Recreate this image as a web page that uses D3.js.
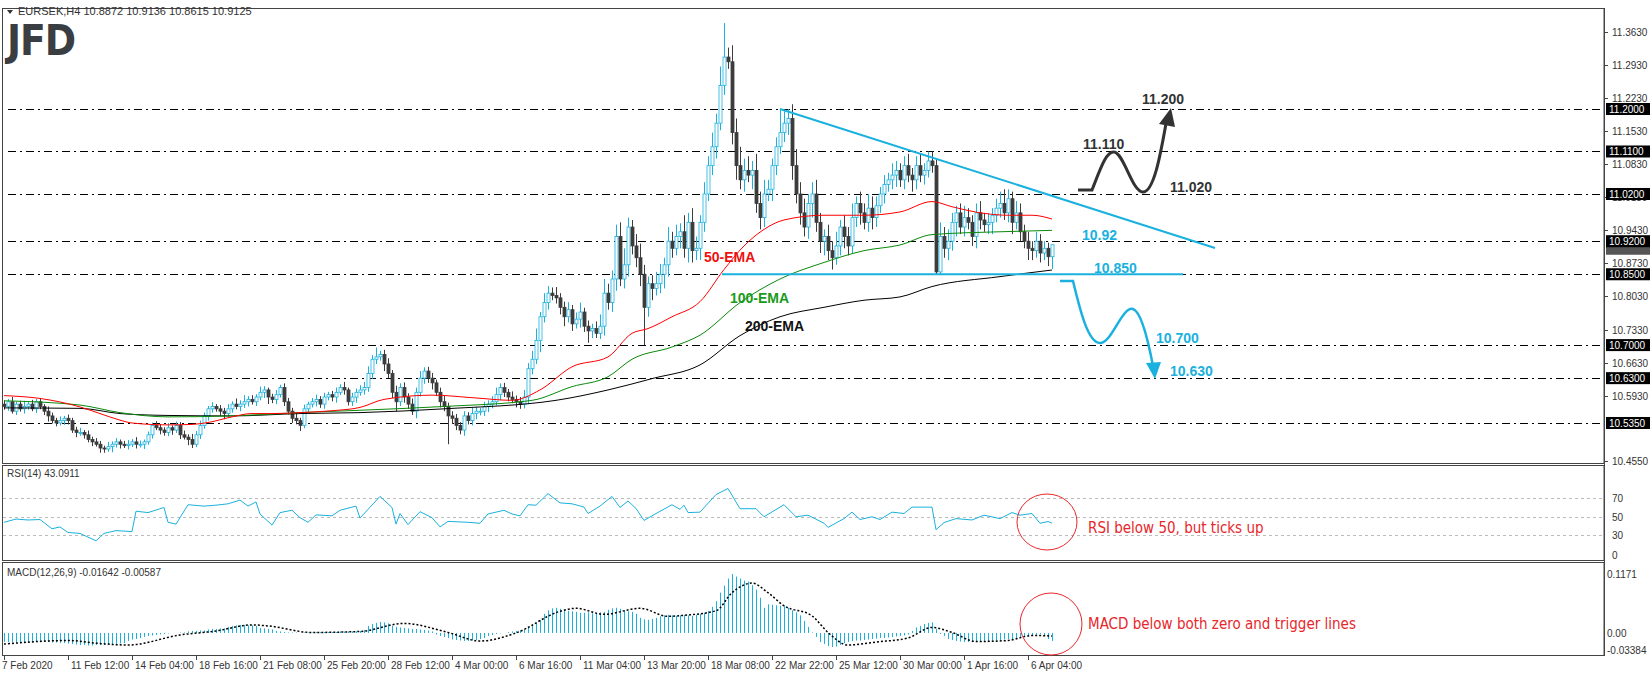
<!DOCTYPE html>
<html>
<head>
<meta charset="utf-8">
<script src="https://cdn.jsdelivr.net/npm/d3@7"></script>
<style>
  body { margin: 0; background: #fff; }
  svg { display: block; font-family: "Liberation Sans", Arial, sans-serif; }
</style>
</head>
<body>
<svg id="chart" width="1651" height="675"></svg>
<script>
// ===== EURSEK H4 candles (close, wick sizes in 0.001) =====
var closes = [
  10.57,10.58,10.56,10.575,10.565,10.57,10.575,10.565,10.58,10.57,10.56,
  10.55,10.54,10.535,10.54,10.545,10.54,
  10.52,10.515,10.515,10.51,10.50,10.495,10.49,10.482,10.48,
  10.485,10.49,10.495,10.49,10.487,10.49,10.495,10.49,10.49,10.495,
  10.51,10.53,10.525,
  10.52,10.515,10.525,10.52,10.53,10.51,10.505,
  10.50,10.49,10.51,
  10.53,10.55,10.565,10.57,
  10.565,10.56,10.555,10.565,10.575,
  10.57,10.575,10.58,10.585,10.58,10.59,10.60,
  10.605,10.59,10.585,10.595,10.61,10.58,
  10.56,10.545,10.54,10.53,
  10.565,10.575,10.58,10.585,10.575,
  10.59,10.595,10.59,10.60,10.61,10.605,10.58,
  10.59,10.60,10.605,
  10.61,10.64,10.67,10.675,10.68,10.66,10.64,
  10.60,10.58,10.61,10.59,10.575,10.56,
  10.60,10.63,10.645,10.63,10.62,10.60,10.58,
  10.57,10.55,10.545,10.53,10.52,10.55,10.54,10.555,10.56,10.56,10.57,10.575,
  10.58,10.595,10.61,10.60,10.59,10.585,10.58,10.575,10.59,
  10.65,10.67,10.71,10.76,10.79,
  10.81,10.805,10.80,
  10.78,10.76,10.775,10.745,10.755,10.77,10.74,10.73,
  10.735,10.725,10.74,10.81,
  10.79,10.84,10.93,10.84,10.87,10.95,
  10.91,10.885,10.85,10.78,10.83,
  10.82,10.83,10.85,10.87,10.92,10.905,
  10.93,10.94,10.905,10.96,10.90,10.905,
  10.96,11.02,11.08,11.12,11.17,11.25,11.31,
  11.30,11.15,11.08,11.05,11.07,11.06,11.07,11.00,10.97,11.02,11.03,11.08,
  11.12,11.15,11.17,11.18,
  11.08,11.02,10.98,10.95,11.00,11.02,10.96,10.92,
  10.93,10.90,10.885,10.91,10.95,10.93,10.91,10.97,
  11.00,10.98,10.96,10.99,10.97,10.995,11.02,
  11.04,11.05,11.06,11.07,11.05,11.08,
  11.06,11.05,11.08,11.06,11.07,11.09,11.08,
  10.855,10.93,
  10.905,10.92,10.96,10.98,10.95,10.97,10.96,10.93,
  10.98,10.965,10.955,10.96,10.975,10.99,11.00,10.98,
  11.01,10.96,10.98,
  10.94,10.92,10.905,10.90,10.92,10.895,10.905,10.8872,
  10.9125
];
var upperWick = [
  8,6,10,5,7,12,4,9,6,8,5,10,7,6,9,5,8,6,7,10,
  5,9,6,8,7,5,10,6,8,5,7,9,6,10,8,5,7,6,9,8,
  6,10,5,8,7,9,6,12,8,10,7,6,9,5,8,7,10,6,12,8,
  14,7,9,6,12,8,5,7,10,6,9,8,7,12,6,9,5,8,10,7,
  9,6,8,10,7,12,5,9,8,10,12,15,9,20,8,10,12,7,14,9,
  11,8,12,10,15,8,9,11,7,10,12,8,10,9,7,10,8,12,9,7,
  10,8,12,15,9,10,7,12,8,10,15,12,18,25,10,20,15,12,18,10,
  12,16,10,14,20,9,12,10,15,25,30,20,18,25,30,35,20,15,25,30,
  20,15,18,25,22,15,30,20,25,18,35,20,30,25,15,25,20,30,20,40,
  72,20,35,30,40,25,30,20,35,25,30,20,15,20,50,25,20,30,35,25,
  30,20,25,30,20,15,25,20,30,15,25,20,30,15,25,20,30,25,20,15,
  20,15,25,20,15,20,25,15,20,25,15,20,20,15,30,20,25,20,15,20,
  25,20,15,20,25,15,20,15,20,25,30,20,15,25,20,15,20,15,20,15,
  15,12,1
];
var lowerWick = [
  7,9,5,8,6,10,7,5,9,6,8,12,6,7,5,9,8,6,10,7,
  8,6,9,5,10,8,6,12,7,9,5,8,6,9,7,10,6,8,5,9,
  7,8,10,6,9,5,12,8,6,9,7,10,8,6,9,12,7,8,6,10,
  8,10,6,9,7,12,15,8,10,6,9,7,10,8,12,6,9,7,10,8,
  10,7,9,12,6,10,8,9,12,7,10,9,12,10,8,15,10,12,20,9,
  12,10,8,15,9,12,10,14,8,12,10,60,12,10,9,12,8,10,12,9,
  10,12,9,8,12,10,9,8,12,10,9,15,12,10,25,12,15,10,12,15,
  20,12,15,10,18,12,25,15,10,12,20,15,20,25,15,20,25,18,20,25,
  80,20,25,15,20,30,25,20,15,25,20,30,25,20,25,20,15,20,25,15,
  20,15,25,30,20,25,15,30,20,25,20,15,25,20,15,20,25,30,20,25,
  20,25,30,20,25,30,20,25,15,20,25,20,15,20,25,15,20,25,20,15,
  20,15,20,25,15,20,15,25,20,15,20,15,15,5,5,20,25,20,30,15,
  20,15,20,25,20,15,20,25,15,20,15,20,25,15,20,15,25,20,15,20,
  15,20,26
];
var firstOpen = 10.575;

// ===== EMAs: [bar, value] =====
var ema50 = [[0,10.593],[9,10.587],[19,10.569],[24,10.555],[29,10.541],[32,10.535],[41,10.531],[47,10.532],[51,10.536],[57,10.548],[62,10.555],[67,10.555],[74,10.557],[82,10.561],[89,10.568],[95,10.585],[107,10.594],[118,10.588],[127,10.583],[134,10.605],[142,10.654],[151,10.675],[157,10.725],[161,10.735],[167,10.76],[174,10.792],[180,10.86],[185,10.91],[190,10.945],[195,10.965],[205,10.975],[215,10.975],[224,10.982],[232,11.004],[237,10.993],[245,10.979],[251,10.975],[257,10.975],[262,10.967]];
var ema100 = [[0,10.582],[19,10.573],[29,10.557],[41,10.548],[57,10.55],[74,10.557],[89,10.562],[110,10.57],[132,10.583],[142,10.612],[151,10.633],[157,10.67],[167,10.696],[174,10.721],[184,10.79],[194,10.84],[205,10.875],[215,10.90],[224,10.912],[232,10.934],[249,10.94],[262,10.943]];
var ema200 = [[0,10.567],[19,10.566],[29,10.555],[41,10.551],[57,10.55],[74,10.555],[89,10.557],[110,10.565],[138,10.583],[151,10.605],[162,10.629],[174,10.658],[184,10.72],[194,10.76],[205,10.78],[215,10.795],[224,10.802],[232,10.824],[249,10.845],[262,10.859]];

// ===== RSI(14): [bar, value] =====
var rsi = [[0,44],[3,47.5],[6,46.5],[9,47],[12,37],[14,39],[16,33],[19,32],[23,24],[25,32],[28,35],[32,34],[33,56],[36,54.5],[40,60],[41,44],[43,42],[46,63],[50,61.5],[53,62.5],[56,64],[59,68],[61,61.5],[63,66],[64,53],[67,41],[69,54.5],[72,57],[74,49],[76,44],[78,52],[82,51],[84,57],[88,61.5],[89,48.5],[91,58],[94,72],[97,60],[98,42],[99,53.5],[101,41.5],[104,55.5],[107,49],[109,39],[111,45],[116,44],[119,43],[121,53],[125,57],[127,53],[129,51],[131,63],[133,62.5],[136,75],[139,65],[142,64],[145,60.5],[146,53.5],[149,61.5],[152,72],[154,60],[156,67],[158,59],[160,46],[163,53.5],[167,63],[169,58],[170,62.5],[171,54.5],[174,55],[178,74],[181,80.5],[184,58.7],[188,58.7],[190,50],[194,60.4],[195,63],[198,50],[201,51.7],[205,43],[206,38.5],[210,48],[212,55],[214,47],[217,50],[219,47],[222,55],[225,53.5],[227,60.4],[232,60.4],[233,36],[235,43.7],[238,48],[242,46.5],[245,51.7],[249,48],[252,54.5],[254,51.7],[257,53.5],[259,43],[261,44.8],[262,43.1]];

// ===== MACD(12,26,9) histogram per bar and signal, in 0.001 =====
var macdHist = [
  -18,-18,-19,-19,-18,-18,-18,-18,-18,-18,
  -18,-18,-19,-19,-20,-20,-21,-22,
  -23,-24,-24,-25,-25,-24,-24,-24,-23,-23,-22,-21,-20,
  -16,-13,-12,-10,-8,
  -6,-5,-4,-3,-2,
  -1,0,0,1,1,
  3,4,4,5,5,
  7,8,8,9,9,
  12,14,15,16,16,15,15,14,
  10,9,8,7,
  4,3,2,1,1,1,0,1,
  1,1,2,2,2,2,2,2,3,3,3,3,3,4,6,
  14,18,20,22,21,19,
  14,12,11,10,
  9,8,8,7,6,5,3,
  -3,-6,-8,-10,
  -13,-14,-15,-16,-16,-15,-14,-12,-10,
  -6,-4,-2,-1,0,
  2,3,4,5,6,
  12,16,20,26,
  38,45,49,50,48,46,
  44,43,42,40,40,41,
  39,40,41,42,
  46,49,50,48,
  45,43,42,38,
  30,27,26,28,30,
  33,35,36,35,34,35,36,35,34,36,38,40,44,52,
  63,80,94,108,117,112,
  108,104,102,95,86,70,50,
  57,56,55,54,55,50,45,
  41,35,24,12,1,-8,-18,
  -22,-26,-28,-27,-24,-20,-18,-16,-15,
  -15,-14,-13,-12,-11,-10,-10,-9,-8,-7,-6,-5,-3,4,
  11,14,18,20,21,8,
  -2,-6,-12,-14,-16,-17,-18,
  -18,-18,-17,-17,-17,-16,-16,-15,-14,-13,-12,-12,
  -11,-9,-7,-5,-4,-3,-2,-6,-12,-16
];
var macdSignal = [[0,-22],[16,-15],[24,-21],[31,-24],[44,-4],[53,4],[62,16],[66,14],[77,1],[89,3],[100,19],[111,1],[119,-16],[128,0],[139,43],[143,49],[150,37],[159,49],[166,33],[170,35],[178,44],[182,80],[187,99],[191,80],[195,54],[202,34],[206,1],[211,-24],[218,-18],[226,-10],[232,11],[237,1],[243,-17],[251,-15],[257,-5],[262,-6]];

// ===== axis labels and levels =====
var timeLabels = ["7 Feb 2020","11 Feb 12:00","14 Feb 04:00","18 Feb 16:00","21 Feb 08:00","25 Feb 20:00","28 Feb 12:00","4 Mar 00:00","6 Mar 16:00","11 Mar 04:00","13 Mar 20:00","18 Mar 08:00","22 Mar 22:00","25 Mar 12:00","30 Mar 00:00","1 Apr 16:00","6 Apr 04:00"];
var priceTicks = [11.3630,11.2930,11.2230,11.1530,11.0830,11.0130,10.9430,10.8730,10.8030,10.7330,10.6630,10.5930,10.4550];
var levels = [11.2000,11.1100,11.0200,10.9200,10.8500,10.7000,10.6300,10.5350];
var lastPrice = 10.9125;
var rsiLevels = [70,50,30];
var macdTicks = [117.1, 0, -33.84];

var BLUE = "#1ab1de", DARK = "#3c3c3c";
var svg = d3.select("#chart");

var x = d3.scaleLinear().domain([0, 1]).range([4, 8]);
var y = d3.scaleLinear().domain([10.535, 11.2]).range([423, 109]);
var yR = d3.scaleLinear().domain([0, 100]).range([563, 470.5]);
var yM = d3.scaleLinear().domain([-33.84, 117.1]).range([650, 574]);
var AX = 1604;

// frames
svg.append("rect").attr("x", 2.5).attr("y", 8.5).attr("width", AX - 2.5).attr("height", 455).attr("fill", "none").attr("stroke", "#444");
svg.append("rect").attr("x", 2.5).attr("y", 465.5).attr("width", AX - 2.5).attr("height", 95).attr("fill", "none").attr("stroke", "#444");
svg.append("rect").attr("x", 2.5).attr("y", 562.5).attr("width", AX - 2.5).attr("height", 93).attr("fill", "none").attr("stroke", "#444");

// header + logo
svg.append("path").attr("d", "M7,10 L13,10 L10,14 Z").attr("fill", "#333");
svg.append("text").attr("x", 18).attr("y", 15).attr("font-size", 11).attr("fill", "#333")
  .text("EURSEK,H4  10.8872 10.9136 10.8615 10.9125");
svg.append("text").attr("x", 7).attr("y", 55).attr("font-size", 42).attr("font-weight", "bold")
  .attr("font-family", "DejaVu Sans Condensed, DejaVu Sans").attr("fill", "#3a3d42").attr("letter-spacing", -1).text("JFD");

// level lines
svg.selectAll(".lvl").data(levels).enter().append("line")
  .attr("x1", 8).attr("x2", AX).attr("y1", d => Math.round(y(d)) + 0.5).attr("y2", d => Math.round(y(d)) + 0.5)
  .attr("stroke", "#000").attr("stroke-dasharray", "8,4,2,4");

// candles
var candles = closes.map(function (c, i) {
  var o = i === 0 ? firstOpen : closes[i - 1];
  return { i: i, o: o, c: c, h: Math.max(o, c) + upperWick[i] / 1000, l: Math.min(o, c) - lowerWick[i] / 1000 };
});
var cg = svg.append("g");
cg.selectAll(".wick").data(candles).enter().append("line")
  .attr("x1", d => Math.round(x(d.i)) + 0.5).attr("x2", d => Math.round(x(d.i)) + 0.5)
  .attr("y1", d => y(d.h)).attr("y2", d => y(d.l))
  .attr("stroke", d => d.c >= d.o ? BLUE : DARK);
cg.selectAll(".body").data(candles).enter().append("rect")
  .attr("x", d => Math.round(x(d.i)) - 1).attr("width", 3)
  .attr("y", d => y(Math.max(d.o, d.c))).attr("height", d => Math.max(1, Math.abs(y(d.o) - y(d.c))))
  .attr("fill", d => d.c >= d.o ? "#fff" : DARK)
  .attr("stroke", d => d.c >= d.o ? BLUE : DARK).attr("stroke-width", 0.8);

// EMAs
var emaLine = d3.line().x(d => x(d[0])).y(d => y(d[1])).curve(d3.curveMonotoneX);
svg.append("path").attr("d", emaLine(ema200)).attr("fill", "none").attr("stroke", "#000");
svg.append("path").attr("d", emaLine(ema100)).attr("fill", "none").attr("stroke", "#0a8a0a");
svg.append("path").attr("d", emaLine(ema50)).attr("fill", "none").attr("stroke", "#f00");
[["50-EMA", 704, 262, "#f01010"], ["100-EMA", 730, 303, "#1a9a1a"], ["200-EMA", 745, 331, "#111"]].forEach(function (t) {
  svg.append("text").attr("x", t[1]).attr("y", t[2]).attr("font-size", 14).attr("font-weight", "bold").attr("fill", t[3]).text(t[0]);
});

// triangle lines
svg.append("line").attr("x1", x(194)).attr("y1", y(11.2)).attr("x2", 1215).attr("y2", 248).attr("stroke", BLUE).attr("stroke-width", 2);
svg.append("line").attr("x1", 722).attr("y1", y(10.85)).attr("x2", 1183).attr("y2", y(10.85)).attr("stroke", BLUE).attr("stroke-width", 2);

// scenario arrows
svg.append("path").attr("d", "M1078,190 L1092,190 C1100,170 1106,151 1114,152 C1124,153 1132,192 1143,192 C1155,192 1162,145 1167,118")
  .attr("fill", "none").attr("stroke", "#333").attr("stroke-width", 3);
svg.append("path").attr("d", "M1171,108 L1159,124 L1175,127 Z").attr("fill", "#333");
svg.append("path").attr("d", "M1060,281 L1073,281 C1080,310 1088,343 1100,343 C1112,343 1122,306 1133,309 C1142,312 1149,345 1153,366")
  .attr("fill", "none").attr("stroke", BLUE).attr("stroke-width", 2.5);
svg.append("path").attr("d", "M1155,379 L1146,363 L1161,362 Z").attr("fill", BLUE);

var notes = [
  ["11.200", 1142, 104, "#333"], ["11.110", 1083, 149, "#333"], ["11.020", 1170, 192, "#333"],
  ["10.92", 1082, 240, BLUE], ["10.850", 1094, 273, BLUE], ["10.700", 1156, 343, BLUE], ["10.630", 1170, 376, BLUE]
];
svg.selectAll(".note").data(notes).enter().append("text")
  .attr("x", d => d[1]).attr("y", d => d[2]).attr("fill", d => d[3])
  .attr("font-size", 14).attr("font-weight", "bold").text(d => d[0]);

// right price axis
svg.append("line").attr("x1", AX + 0.5).attr("x2", AX + 0.5).attr("y1", 8).attr("y2", 656).attr("stroke", "#444");
svg.selectAll(".pt").data(priceTicks).enter().append("text")
  .attr("x", 1612).attr("y", d => y(d) + 4).attr("font-size", 10).attr("fill", "#333").text(d => d.toFixed(4));
svg.selectAll(".ptk").data(priceTicks).enter().append("line")
  .attr("x1", AX).attr("x2", AX + 4).attr("y1", d => Math.round(y(d)) + 0.5).attr("y2", d => Math.round(y(d)) + 0.5).attr("stroke", "#444");
svg.append("rect").attr("x", 1606).attr("y", y(lastPrice) - 2).attr("width", 44).attr("height", 12).attr("fill", "#555");
svg.selectAll(".lb").data(levels).enter().append("rect")
  .attr("x", 1606).attr("y", d => y(d) - 6).attr("width", 44).attr("height", 12).attr("fill", "#000");
svg.selectAll(".lbt").data(levels).enter().append("text")
  .attr("x", 1609).attr("y", d => y(d) + 4).attr("font-size", 10).attr("fill", "#fff").text(d => d.toFixed(4));

// RSI panel
svg.append("text").attr("x", 7).attr("y", 477).attr("font-size", 10).attr("fill", "#333").text("RSI(14) 43.0911");
svg.selectAll(".rl").data(rsiLevels).enter().append("line")
  .attr("x1", 3).attr("x2", AX).attr("y1", d => Math.round(yR(d)) + 0.5).attr("y2", d => Math.round(yR(d)) + 0.5)
  .attr("stroke", "#bbb").attr("stroke-dasharray", "3,3");
svg.append("path").attr("d", d3.line().x(d => x(d[0])).y(d => yR(d[1]))(rsi)).attr("fill", "none").attr("stroke", BLUE);
svg.selectAll(".rt").data(rsiLevels.concat([0])).enter().append("text")
  .attr("x", 1612).attr("y", d => d === 0 ? 559 : yR(d) + 4).attr("font-size", 10).attr("fill", "#333").text(d => d);

// MACD panel
svg.append("text").attr("x", 7).attr("y", 576).attr("font-size", 10).attr("fill", "#333").text("MACD(12,26,9) -0.01642 -0.00587");
svg.selectAll(".mh").data(macdHist).enter().append("line")
  .attr("x1", (d, i) => Math.round(x(i)) + 0.5).attr("x2", (d, i) => Math.round(x(i)) + 0.5)
  .attr("y1", yM(0)).attr("y2", d => yM(d)).attr("stroke", BLUE);
svg.append("path").attr("d", d3.line().x(d => x(d[0])).y(d => yM(d[1])).curve(d3.curveMonotoneX)(macdSignal))
  .attr("fill", "none").attr("stroke", "#000").attr("stroke-width", 1.5).attr("stroke-dasharray", "2,2");
svg.selectAll(".mt").data(macdTicks).enter().append("text")
  .attr("x", 1607).attr("y", d => yM(d) + 4).attr("font-size", 10).attr("fill", "#333")
  .text(d => d === 0 ? "0.00" : (d / 1000).toString());

// time axis
svg.selectAll(".tl").data(timeLabels).enter().append("text")
  .attr("x", (d, i) => x(i * 16) + (i === 0 ? -2 : 3)).attr("y", 669).attr("font-size", 10).attr("fill", "#333").text(d => d);
svg.selectAll(".tt").data(timeLabels).enter().append("line")
  .attr("x1", (d, i) => Math.round(x(i * 16)) + 0.5).attr("x2", (d, i) => Math.round(x(i * 16)) + 0.5)
  .attr("y1", 656).attr("y2", 660).attr("stroke", "#444");

// annotations
var RED = "#e8262b";
svg.append("ellipse").attr("cx", 1047).attr("cy", 522).attr("rx", 30).attr("ry", 28).attr("fill", "none").attr("stroke", RED);
svg.append("ellipse").attr("cx", 1051).attr("cy", 624).attr("rx", 31).attr("ry", 31).attr("fill", "none").attr("stroke", RED);
svg.append("text").attr("x", 1088).attr("y", 533).attr("font-size", 15).attr("fill", RED)
  .attr("font-family", "Liberation Sans Narrow, DejaVu Sans Condensed, sans-serif").text("RSI below 50, but ticks up");
svg.append("text").attr("x", 1088).attr("y", 629).attr("font-size", 15).attr("fill", RED)
  .attr("font-family", "Liberation Sans Narrow, DejaVu Sans Condensed, sans-serif").text("MACD below both zero and trigger lines");
</script>
</body>
</html>
